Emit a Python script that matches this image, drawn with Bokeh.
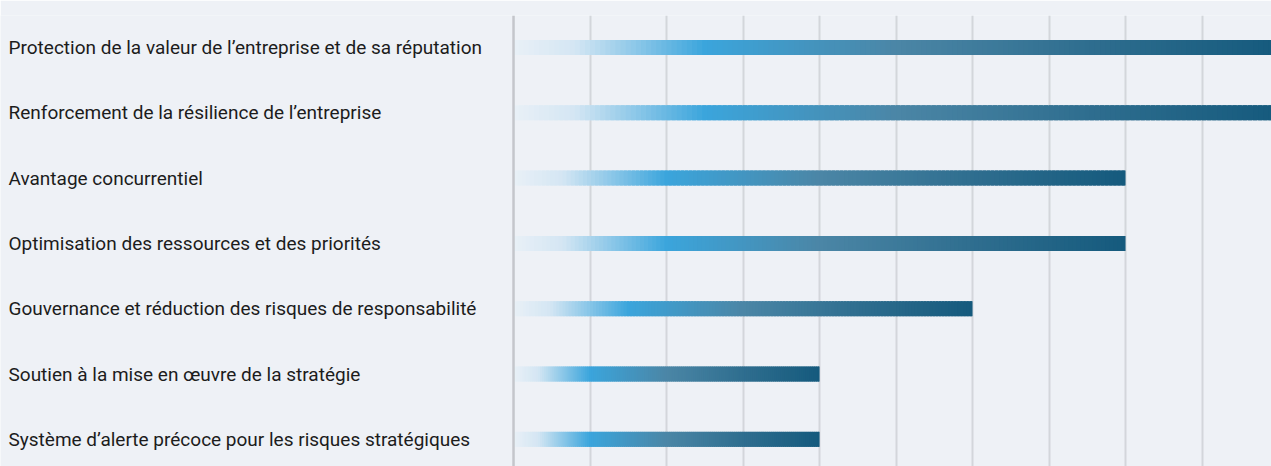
import numpy as np
from bokeh.plotting import figure
from bokeh.models import Range1d, FixedTicker, ColumnDataSource, Span
from bokeh.core.properties import value
from bokeh.embed import file_html
from bokeh.resources import INLINE

labels = [
    "Protection de la valeur de l\u2019entreprise et de sa réputation",
    "Renforcement de la résilience de l\u2019entreprise",
    "Avantage concurrentiel",
    "Optimisation des ressources et des priorités",
    "Gouvernance et réduction des risques de responsabilité",
    "Soutien à la mise en \u0153uvre de la stratégie",
    "Système d\u2019alerte précoce pour les risques stratégiques",
]
values = [10, 10, 8, 8, 6, 4, 4]
grid_ticks = [0, 1, 2, 3, 4, 5, 6, 7, 8, 9]

BG = "#eef1f6"
W, H = 1271, 466

p = figure(width=W, height=H, output_backend="svg", toolbar_location=None,
           x_range=Range1d(-6.706, 9.908), y_range=Range1d(6.416, -0.49),
           min_border_left=0, min_border_right=0, min_border_top=15, min_border_bottom=0)
p.background_fill_color = BG
p.border_fill_color = BG
p.outline_line_color = None
p.xaxis.visible = False
p.yaxis.visible = False
p.ygrid.visible = False
p.xgrid.ticker = FixedTicker(ticks=grid_ticks[1:])
p.xgrid.grid_line_color = "#d3d6db"
p.xgrid.grid_line_width = 2
p.add_layout(Span(location=grid_ticks[0], dimension="height", line_color="#c4c6cb", line_width=2.5))

# gradient bars
def hex2rgb(h):
    h = h.lstrip("#")
    return np.array([int(h[i:i+2], 16) for i in (0, 2, 4)], dtype=float)

stops = [(0.0, "#e9f0f7"), (0.08, "#d4e6f3"), (0.25, "#3ba5dc"), (0.5, "#4b86a6"),
         (0.75, "#2f6e8f"), (1.0, "#155a7d")]
pos = np.array([s[0] for s in stops])
cols = np.array([hex2rgb(s[1]) for s in stops])

N = 150
l, r, t, b, c = [], [], [], [], []
for i, v in enumerate(values):
    edges = np.linspace(0, v, N + 1)
    step = v / N
    for k in range(N):
        f = (k + 0.5) / N
        rgb = [np.interp(f, pos, cols[:, j]) for j in range(3)]
        l.append(edges[k])
        r.append(edges[k + 1] + (step * 0.8 if k < N - 1 else 0))
        t.append(i - 0.115); b.append(i + 0.115)
        c.append("#%02x%02x%02x" % tuple(int(round(x)) for x in rgb))
p.quad(left=l, right=r, top=t, bottom=b, fill_color=c, line_color=None)

src = ColumnDataSource(dict(x=[-6.601] * len(labels), y=list(range(len(labels))), text=labels))
p.text(x="x", y="y", text="text", source=src, text_font=value("Roboto"),
       text_font_size="19px", text_color="#1c1c1c", text_align="left", text_baseline="middle")

open("out.html", "w").write(file_html(p, INLINE))
